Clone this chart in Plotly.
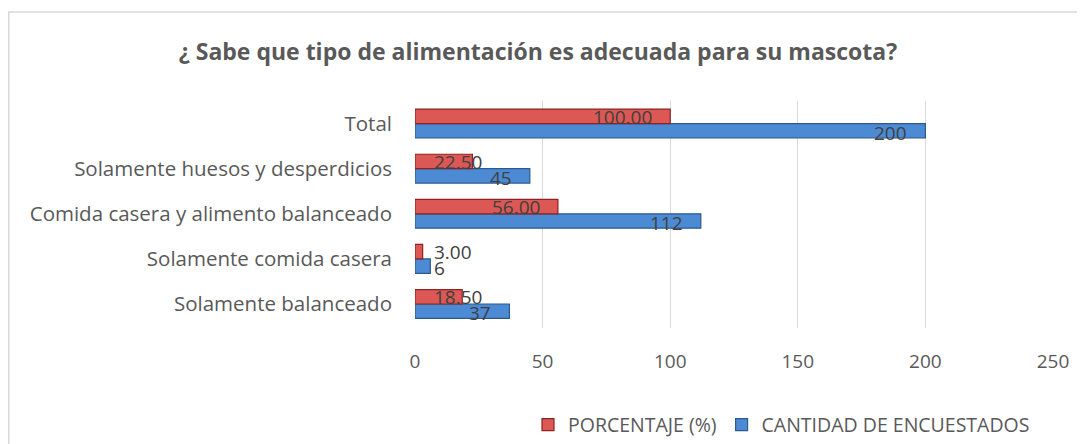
import plotly.graph_objects as go

categories = ["Solamente balanceado", "Solamente comida casera",
              "Comida casera y alimento balanceado",
              "Solamente huesos y desperdicios", "Total"]
cantidad = [37, 6, 112, 45, 200]
porcentaje = [18.50, 3.00, 56.00, 22.50, 100.00]
cantidad_labels = ["37", "6", "112", "45", "200"]
porcentaje_labels = ["18.50", "3.00", "56.00", "22.50", "100.00"]
x_ticks = [0, 50, 100, 150, 200, 250]

W, H = 1085, 470
OFF = 8  # body margin of the page
ML, MR, MT = 415 - OFF, 32 + OFF, 101 - OFF
MB = H - (328 - OFF)
PW = W - ML - MR
PH = H - MT - MB
XMAX = 250
px_per_unit = PW / XMAX

BLUE = "#4D8AD4"
BLUE_EDGE = "#2C5A8E"
RED = "#DC5855"
RED_EDGE = "#8E2220"
TXT = "#404040"
FONT = "Open Sans"

fig = go.Figure()
fig.add_trace(go.Bar(
    y=categories, x=cantidad, orientation="h", name="CANTIDAD DE ENCUESTADOS",
    marker=dict(color=BLUE, line=dict(color=BLUE_EDGE, width=1.2)),
))
fig.add_trace(go.Bar(
    y=categories, x=porcentaje, orientation="h", name="PORCENTAJE (%)",
    marker=dict(color=RED, line=dict(color=RED_EDGE, width=1.2)),
))

LABEL_SIZE = 19
char_w = LABEL_SIZE * 0.55
annotations = []
def add_labels(values, labels, offset):
    for cat, v, lab in zip(categories, values, labels):
        bar_px = v * px_per_unit
        text_px = len(lab) * char_w
        if text_px + 34 > bar_px:
            annotations.append(dict(x=0, y=cat, text=lab, xanchor="left", xshift=17,
                                    yshift=offset, showarrow=False,
                                    font=dict(size=LABEL_SIZE, color=TXT, family=FONT)))
        else:
            annotations.append(dict(x=v, y=cat, text=lab, xanchor="right", xshift=-16,
                                    yshift=offset, showarrow=False,
                                    font=dict(size=LABEL_SIZE, color=TXT, family=FONT)))

add_labels(cantidad, cantidad_labels, -9)
add_labels(porcentaje, porcentaje_labels, 7)

fig.update_layout(
    width=W, height=H,
    margin=dict(l=ML, r=MR, t=MT, b=MB),
    paper_bgcolor="white", plot_bgcolor="white",
    barmode="group", bargap=0.36, bargroupgap=0.0,
    font=dict(family=FONT, color="#595959"),
    title=dict(text="<b>¿ Sabe que tipo de alimentación es adecuada para su mascota?</b>",
               x=(538 - OFF) / W, xanchor="center", y=1 - (52 - OFF) / H, yanchor="middle",
               font=dict(size=23, color="#595959", family=FONT)),
    xaxis=dict(range=[0, XMAX], tickvals=x_ticks, showgrid=True, gridcolor="#D9D9D9",
               gridwidth=1, zeroline=False, showline=False,
               tickfont=dict(size=19, color="#595959"), ticklabelstandoff=20),
    yaxis=dict(showgrid=False, zeroline=False, showline=False,
               tickfont=dict(size=20.5, color="#595959"), ticklabelstandoff=22),
    legend=dict(orientation="h", traceorder="reversed", x=(520 - ML) / PW, xanchor="left",
                y=(PH - (425 - 101)) / PH, yanchor="middle",
                font=dict(size=19.5, color="#595959"), itemwidth=30,
                bgcolor="rgba(0,0,0,0)"),
    annotations=annotations,
    shapes=[dict(type="rect", xref="paper", yref="paper",
                 x0=(0.8 - ML) / PW, x1=1.2, y0=-1.2, y1=(PH + 101 - 12) / PH,
                 line=dict(color="#D9D9D9", width=1.5), layer="below")],
)

fig.write_html("out.html")
